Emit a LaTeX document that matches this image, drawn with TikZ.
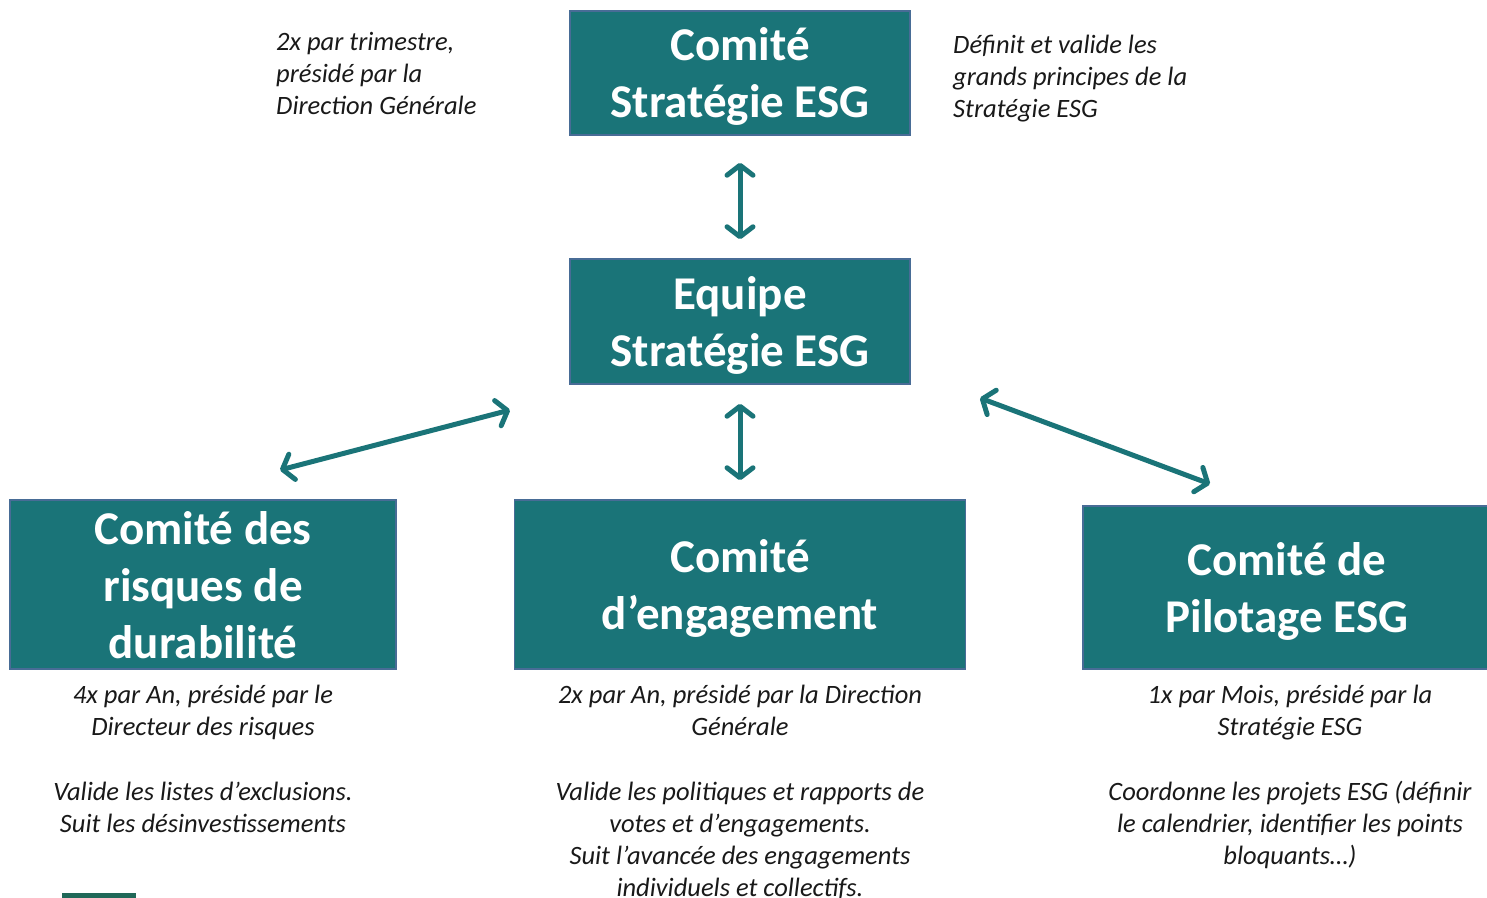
\documentclass[tikz,border=0pt]{standalone}
\usepackage{fontspec}
\setmainfont{Carlito}
\usepackage{xcolor}
\usetikzlibrary{arrows.meta}
\definecolor{esgteal}{RGB}{26,116,120}
\definecolor{esgedge}{RGB}{72,108,150}
\definecolor{esgnote}{RGB}{25,25,25}
\definecolor{esgbar}{RGB}{32,104,88}

\begin{document}
\begin{tikzpicture}[x=1pt,y=-1pt]
      \tikzstyle{comite}=[draw=esgedge,fill=esgteal,line width=1.5pt,text=white,font=\fontsize{47}{57}\selectfont\bfseries,align=center,inner sep=0pt,text depth=0pt]
      \tikzstyle{note}=[text=esgnote,font=\fontsize{26.5}{32}\selectfont\itshape,inner sep=0pt]
      \tikzstyle{link}=[draw=esgteal,line width=5pt,line cap=round,{Straight Barb[round,length=10pt,width=26pt]}-{Straight Barb[round,length=10pt,width=26pt]}]
      \useasboundingbox (0,0) rectangle (1487,897);
      \node[comite,minimum width=340pt,minimum height=124pt] (strat) at (740,73) {Comité\\Stratégie ESG};
      \node[comite,minimum width=340pt,minimum height=125pt] (team) at (740,321.5) {Equipe\\Stratégie ESG};
      \node[comite,minimum width=386pt,minimum height=169pt] (risk) at (203,584.5) {Comité des\\risques de\\durabilité};
      \node[comite,minimum width=451pt,minimum height=169pt] (engage) at (740,584.5) {Comité\\d’engagement};
      \node[comite,minimum width=408pt,minimum height=163pt] (pilot) at (1287,587.5) {Comité de\\Pilotage ESG};
      \coordinate (teamleft) at (510,410);
      \coordinate (riskend) at (280,470);
      \coordinate (teamright) at (980,398);
      \coordinate (pilotend) at (1210,484);
      \draw[link,shorten <=27pt,shorten >=19pt] (strat) -- (team);
      \draw[link,shorten <=19pt,shorten >=19pt] (team) -- (engage);
      \draw[link] (teamleft) -- (riskend);
      \draw[link] (teamright) -- (pilotend);
      \node[note,anchor=base west,align=left] (freqtop) at (276,114) {2x par trimestre,\\présidé par la\\Direction Générale};
      \node[note,anchor=base west,align=left] (roletop) at (953,117) {Définit et valide les\\grands principes de la\\Stratégie ESG};
      \node[note,anchor=base,align=center] (riskinfo) at (203,832) {4x par An, présidé par le\\Directeur des risques\\[33pt]Valide les listes d'exclusions.\\Suit les désinvestissements};
      \node[note,anchor=base,align=center] (engageinfo) at (740,896) {2x par An, présidé par la Direction\\Générale\\[33pt]Valide les politiques et rapports de\\votes et d'engagements.\\Suit l’avancée des engagements\\individuels et collectifs.};
      \node[note,anchor=base,align=center] (pilotinfo) at (1290,864) {1x par Mois, présidé par la\\Stratégie ESG\\[33pt]Coordonne les projets ESG (définir\\le calendrier, identifier les points\\bloquants…)};
      \fill[esgbar] (62,893) rectangle (136,898);
    \end{tikzpicture}
\end{document}
